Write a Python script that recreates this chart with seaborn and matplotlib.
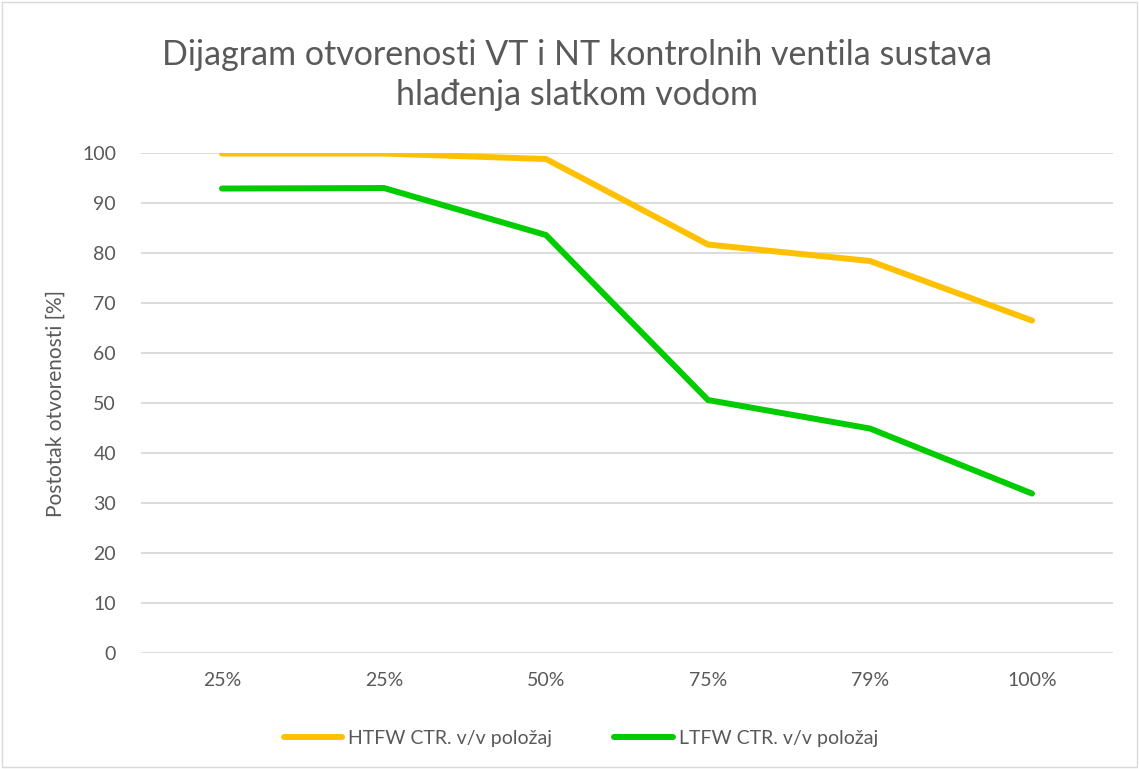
import pandas as pd
import matplotlib.pyplot as plt
import seaborn as sns

kategorije = ['25%', '25%', '50%', '75%', '79%', '100%']
htfw = [99.9, 99.9, 98.8, 81.7, 78.4, 66.5]
ltfw = [92.9, 93.0, 83.6, 50.6, 44.9, 31.9]
serije = ['HTFW CTR. v/v položaj', 'LTFW CTR. v/v položaj']

df = pd.DataFrame({
    'x': list(range(len(kategorije))) * 2,
    'vrijednost': htfw + ltfw,
    'serija': [serije[0]] * len(htfw) + [serije[1]] * len(ltfw),
})

sns.set_style('white')
plt.rcParams['font.family'] = ['Lato', 'DejaVu Sans']
siva = '#595959'

fig = plt.figure(figsize=(11.39, 7.69), dpi=100)
ax = fig.add_axes([0.1238, 0.1508, 0.8534, 0.6502])

sns.lineplot(data=df, x='x', y='vrijednost', hue='serija',
             palette=['#FFC000', '#00CC00'], linewidth=4.3,
             solid_capstyle='round', ax=ax, legend=False)

ax.set_xlim(-0.5, len(kategorije) - 0.5)
ax.set_ylim(0, 100)
ax.set_yticks(range(0, 101, 10))
ax.set_xticks(range(len(kategorije)))
ax.set_xticklabels(kategorije)
ax.tick_params(colors=siva, labelsize=14, length=0, pad=14)
ax.tick_params(axis='y', pad=18)
ax.grid(axis='y', color='#D9D9D9', linewidth=1.3)
ax.set_axisbelow(True)
for s in ax.spines.values():
    s.set_visible(False)
ax.set_xlabel('')
ax.set_ylabel('Postotak otvorenosti [%]', color=siva, fontsize=15, labelpad=12)

fig.text(0.507, 0.902, 'Dijagram otvorenosti VT i NT kontrolnih ventila sustava\nhlađenja slatkom vodom',
         ha='center', va='center', fontsize=24.5, color=siva, linespacing=1.3)

ručke = [plt.Line2D([0], [0], color=c, linewidth=4.3, solid_capstyle='round')
         for c in ['#FFC000', '#00CC00']]
fig.legend(ručke, serije, loc='center', bbox_to_anchor=(0.51, 0.04), ncol=2,
           frameon=False, fontsize=14, labelcolor=siva, handlelength=3.0,
           handletextpad=0.3, columnspacing=3.2)

fig.patches.append(plt.Rectangle((0.002, 0.002), 0.996, 0.996, transform=fig.transFigure,
                                 fill=False, edgecolor='#D9D9D9', linewidth=1))

plt.savefig('out.png', dpi=100)
